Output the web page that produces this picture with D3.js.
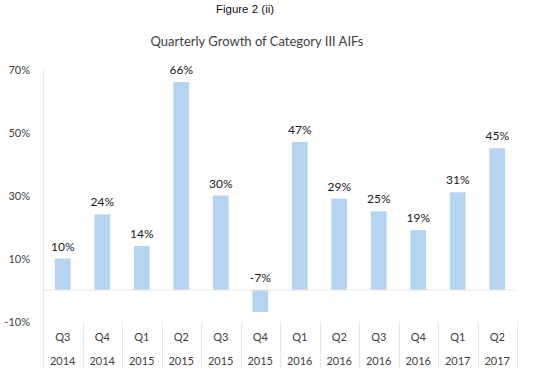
<!DOCTYPE html>
<html>
<head>
<meta charset="utf-8">
<script src="https://cdn.jsdelivr.net/npm/d3@7"></script>
<style>
  body { margin: 0; background: #fff; }
  text { font-family: Lato, "Noto Sans", sans-serif; }
</style>
</head>
<body>
<div id="chart"></div>
<script>
const quarters = ["Q3", "Q4", "Q1", "Q2", "Q3", "Q4", "Q1", "Q2", "Q3", "Q4", "Q1", "Q2"];
const years = ["2014", "2014", "2015", "2015", "2015", "2015", "2016", "2016", "2016", "2016", "2017", "2017"];
const growth = [10, 24, 14, 66, 30, -7, 47, 29, 25, 19, 31, 45];
const yTicks = [70, 50, 30, 10, -10];

const width = 536, height = 383;
const svg = d3.select("#chart").append("svg").attr("width", width).attr("height", height);

const data = growth.map((v, i) => ({ key: i, q: quarters[i], yr: years[i], v }));

const x = d3.scaleBand().domain(data.map(d => d.key)).range([43, 517]).paddingInner(0.6).paddingOuter(0.3);
const xb = d3.scaleBand().domain(data.map(d => d.key)).range([43, 517]);
const y = d3.scaleLinear().domain([-10, 70]).range([321.5, 69.5]);

svg.append("text").attr("x", 245).attr("y", 13).attr("text-anchor", "middle")
  .style("font-family", "Liberation Sans, Arial, sans-serif").style("font-weight", "normal")
  .attr("font-size", 11.5).attr("fill", "#111")
  .text("Figure 2 (ii)");

svg.append("text").attr("x", 257).attr("y", 46).attr("text-anchor", "middle")
  .attr("font-size", 13).attr("fill", "#404040")
  .text("Quarterly Growth of Category III AIFs");

// y axis labels
svg.selectAll(".ytick").data(yTicks).enter().append("text")
  .attr("x", 30).attr("y", d => y(d) + 4).attr("text-anchor", "end")
  .attr("font-size", 11).attr("fill", "#404040")
  .text(d => d + "%");

// left axis line
svg.append("line").attr("x1", 43.5).attr("x2", 43.5).attr("y1", 70).attr("y2", 368)
  .attr("stroke", "#e8e8e8");

// category separators
svg.selectAll(".sep").data(data).enter().append("line")
  .attr("x1", d => Math.round(xb(d.key) + xb.bandwidth()) + 0.5)
  .attr("x2", d => Math.round(xb(d.key) + xb.bandwidth()) + 0.5)
  .attr("y1", 322).attr("y2", 368).attr("stroke", "#e8e8e8");

// bars
svg.selectAll(".bar").data(data).enter().append("rect")
  .attr("x", d => x(d.key)).attr("width", x.bandwidth())
  .attr("y", d => y(Math.max(0, d.v)))
  .attr("height", d => Math.abs(y(d.v) - y(0)))
  .attr("fill", "#b4d4f2");

// zero line
svg.append("line").attr("x1", 43).attr("x2", 517).attr("y1", y(0)).attr("y2", y(0))
  .attr("stroke", "#e6e6e6").attr("stroke-width", 1);

// value labels
svg.selectAll(".val").data(data).enter().append("text")
  .attr("x", d => x(d.key) + x.bandwidth() / 2)
  .attr("y", d => y(Math.max(0, d.v)) - 8)
  .attr("text-anchor", "middle").attr("font-size", 12).attr("fill", "#1a1a1a")
  .text(d => d.v + "%");

// x labels
svg.selectAll(".q").data(data).enter().append("text")
  .attr("x", d => xb(d.key) + xb.bandwidth() / 2).attr("y", 341)
  .attr("text-anchor", "middle").attr("font-size", 11).attr("fill", "#404040")
  .text(d => d.q);
svg.selectAll(".yr").data(data).enter().append("text")
  .attr("x", d => xb(d.key) + xb.bandwidth() / 2).attr("y", 364.5)
  .attr("text-anchor", "middle").attr("font-size", 11).attr("fill", "#404040")
  .text(d => d.yr);
</script>
</body>
</html>
